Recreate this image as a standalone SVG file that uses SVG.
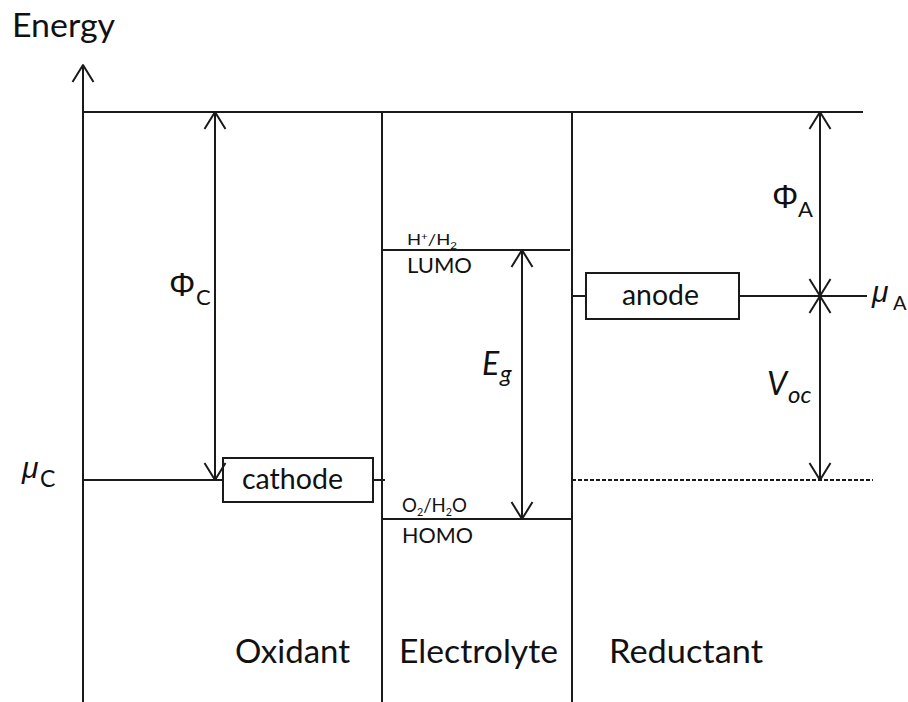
<svg xmlns="http://www.w3.org/2000/svg" width="908" height="702" viewBox="0 0 908 702">
<style>
  .ln { fill: none; stroke: #1a1a1a; stroke-width: 2; }
  .dash { stroke-dasharray: 4 2; }
  .box { fill: #fff; stroke: #1a1a1a; stroke-width: 2; }
  .t { font-family: Lato, "Open Sans", "DejaVu Sans", sans-serif; fill: #111; }
  .g { font-family: "Liberation Sans", "DejaVu Sans", sans-serif; fill: #111; }
  .it { font-style: italic; }
  .arr { marker-start: url(#ah); marker-end: url(#ah); }
</style>
<defs>
  <marker id="ah" markerUnits="userSpaceOnUse" markerWidth="40" markerHeight="40" viewBox="-20 -20 40 40" refX="0" refY="0" orient="auto-start-reverse" overflow="visible">
    <path d="M-17,-10.5 L0,0 L-17,10.5" fill="none" stroke="#1a1a1a" stroke-width="2" stroke-linejoin="round"/>
  </marker>
</defs>
<rect width="908" height="702" fill="#fff"/>

<g id="frame">
  <path class="ln" d="M83,702 V65" marker-end="url(#ah)"/>
  <path class="ln" d="M83,112 H863"/>
  <path class="ln" d="M382,112 V702"/>
  <path class="ln" d="M572,112 V702"/>
  <text class="t" x="12" y="37" font-size="33" textLength="103" lengthAdjust="spacingAndGlyphs">Energy</text>
</g>

<g id="levels">
  <path class="ln" d="M382,250 H570"/>
  <path class="ln" d="M382,519 H572"/>
  <text class="t" x="407" y="245" font-size="16" textLength="50" lengthAdjust="spacingAndGlyphs">H<tspan dy="-5" font-size="10">+</tspan><tspan dy="5">/H</tspan><tspan dy="4" font-size="10">2</tspan></text>
  <text class="t" x="407" y="273" font-size="21" textLength="65" lengthAdjust="spacingAndGlyphs">LUMO</text>
  <text class="t" x="402" y="512" font-size="19" textLength="65" lengthAdjust="spacingAndGlyphs">O<tspan dy="4" font-size="11">2</tspan><tspan dy="-4">/H</tspan><tspan dy="4" font-size="11">2</tspan><tspan dy="-4">O</tspan></text>
  <text class="t" x="402" y="543" font-size="22" textLength="71" lengthAdjust="spacingAndGlyphs">HOMO</text>
</g>

<g id="cathode">
  <rect class="box" x="223" y="458" width="150" height="44"/>
  <text class="t" x="242" y="489" font-size="28" textLength="101" lengthAdjust="spacingAndGlyphs">cathode</text>
</g>

<g id="anode">
  <rect class="box" x="586" y="273" width="153" height="46"/>
  <text class="t" x="622" y="305" font-size="28" textLength="77" lengthAdjust="spacingAndGlyphs">anode</text>
</g>

<g id="connectors">
  <path class="ln" d="M83,480 H223"/>
  <path class="ln" d="M373,480 H385"/>
  <path class="ln" d="M572,296 H586"/>
  <path class="ln" d="M739,296 H867"/>
  <path class="ln dash" d="M572,480 H873"/>
  <path class="ln arr" d="M215,112 V480"/>
  <path class="ln arr" d="M522,250 V519"/>
  <path class="ln arr" d="M820,112 V296"/>
  <path class="ln arr" d="M820,296 V480"/>
</g>

<g id="labels">
  <text class="g" x="169" y="296" font-size="33">Φ</text>
  <text class="t" x="196" y="305" font-size="22">C</text>
  <text class="g" x="772" y="208" font-size="33">Φ</text>
  <text class="t" x="798" y="217" font-size="22">A</text>
  <text class="g it" x="22" y="478" font-size="30">μ</text>
  <text class="t" x="40" y="487" font-size="23">C</text>
  <text class="g it" x="872" y="302" font-size="30">μ</text>
  <text class="t" x="893" y="310" font-size="20">A</text>
  <text class="t it" x="767" y="395" font-size="32">V</text>
  <text class="t it" x="788" y="403" font-size="24">oc</text>
  <text class="t it" x="482" y="375" font-size="32">E</text>
  <text class="t it" x="500" y="382" font-size="24">g</text>
  <text class="t" x="235" y="663" font-size="33" textLength="115" lengthAdjust="spacingAndGlyphs">Oxidant</text>
  <text class="t" x="399" y="663" font-size="33" textLength="159" lengthAdjust="spacingAndGlyphs">Electrolyte</text>
  <text class="t" x="609" y="663" font-size="33" textLength="154" lengthAdjust="spacingAndGlyphs">Reductant</text>
</g>
</svg>
